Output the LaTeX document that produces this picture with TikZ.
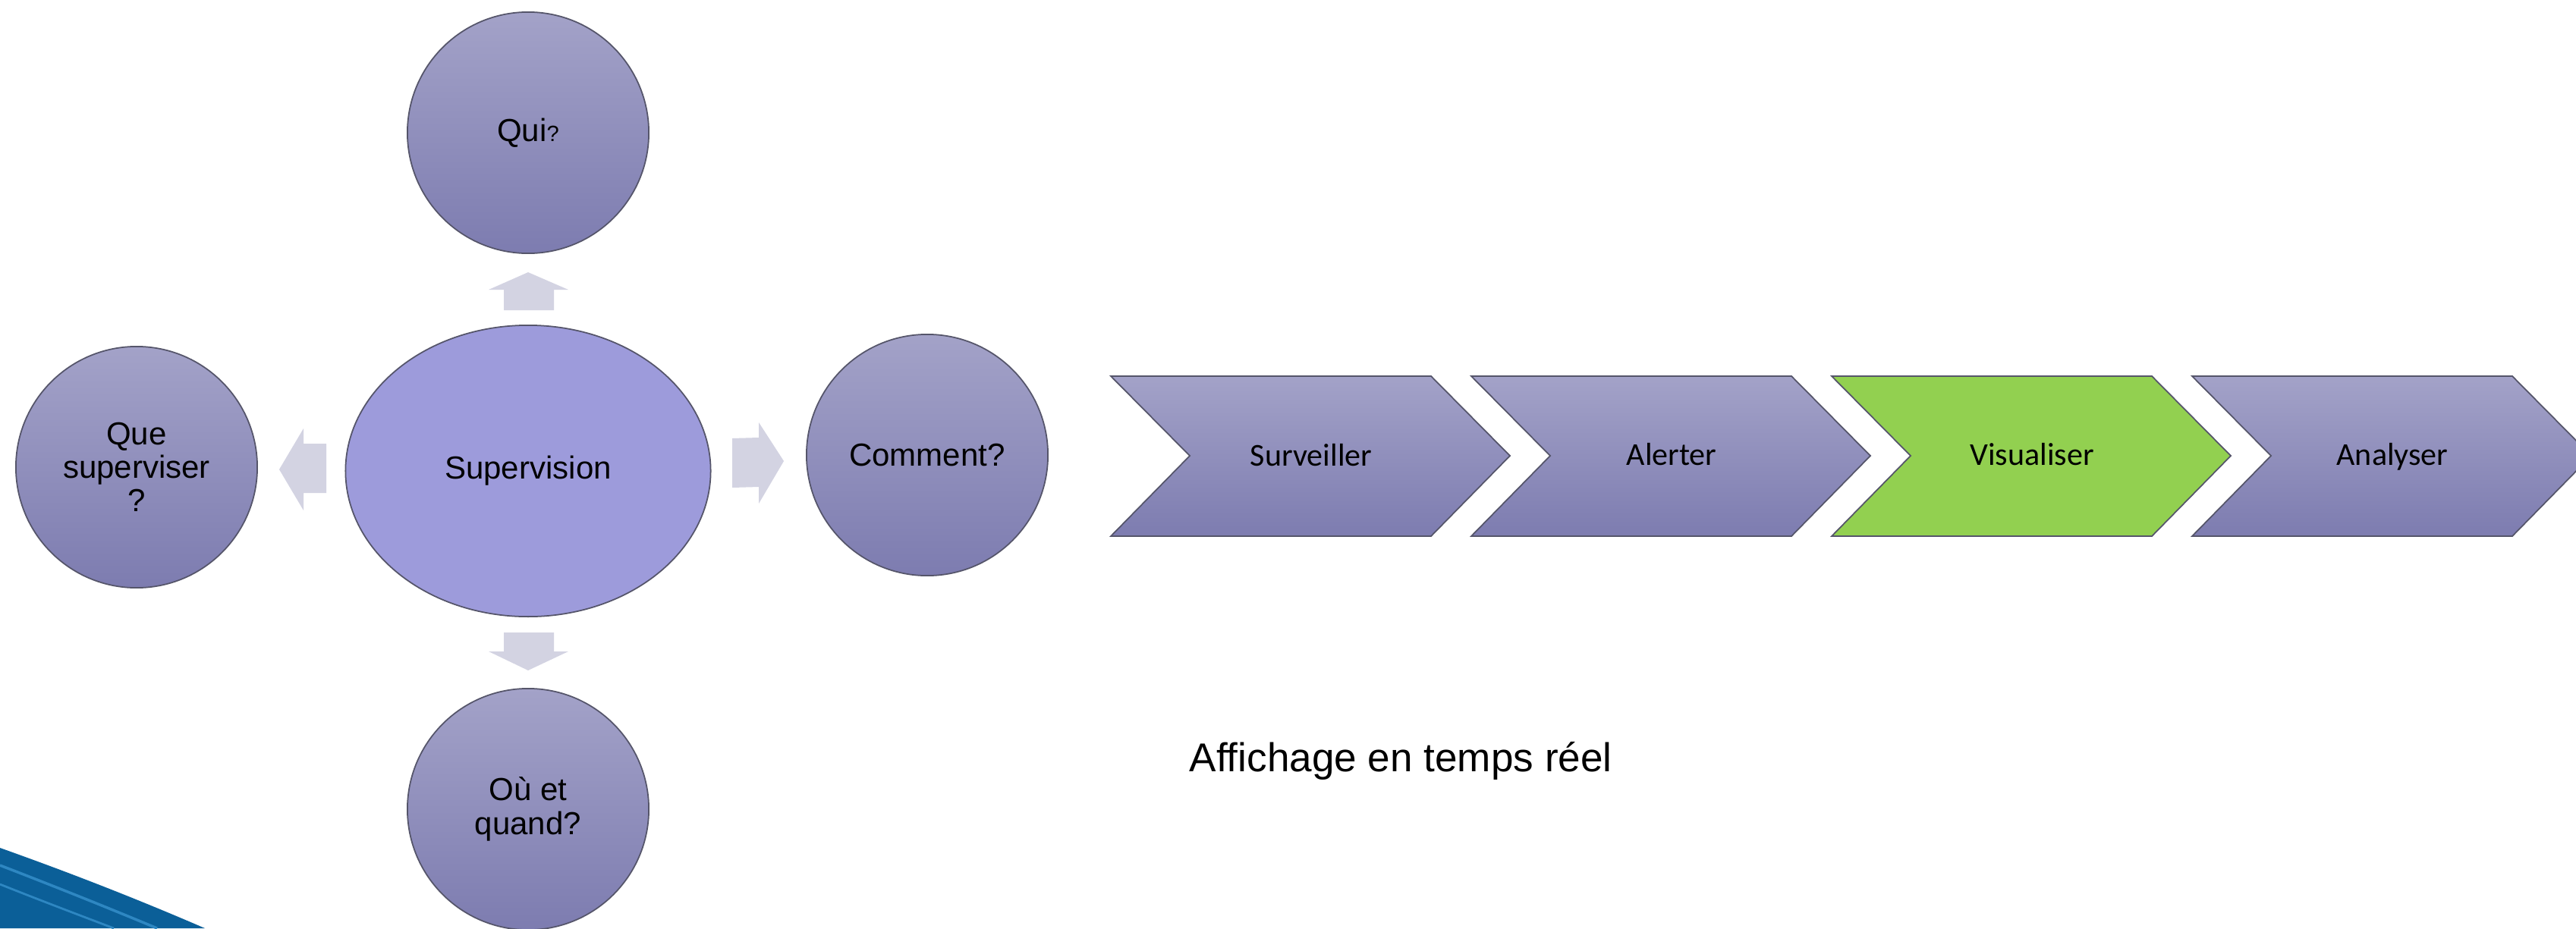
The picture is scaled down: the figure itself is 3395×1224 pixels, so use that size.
\documentclass[tikz,border=0pt]{standalone}
\usepackage{fontspec}
\setmainfont{Liberation Sans}
\newfontfamily\chevfont{Carlito}
\usetikzlibrary{shapes.geometric}
\definecolor{circtop}{HTML}{A3A2C8}
\definecolor{circbot}{HTML}{7D7CB0}
\definecolor{centfill}{HTML}{9D9BDB}
\definecolor{arrfill}{HTML}{D3D3E2}
\definecolor{greenfill}{HTML}{92D050}
\definecolor{outl}{HTML}{55556A}
\definecolor{swoosh}{HTML}{0B5F98}
\definecolor{swooshlight}{HTML}{2E87C2}
\tikzset{
  circ/.style={circle, minimum size=3.18cm, inner sep=0pt, draw=outl, line width=0.5pt,
    top color=circtop, bottom color=circbot, align=center,
    font=\fontsize{11.95}{12.6}\selectfont},
  centre/.style={ellipse, minimum width=4.81cm, minimum height=3.84cm, inner sep=0pt,
    draw=outl, line width=0.5pt, fill=centfill, font=\fontsize{11.95}{14}\selectfont},
  blockarrow/.style={fill=arrfill, draw=none},
  chevblue/.style={top color=circtop, bottom color=circbot, draw=outl, line width=0.5pt},
  chevgreen/.style={fill=greenfill, draw=outl, line width=0.5pt},
  chevtext/.style={font=\chevfont\fontsize{11.95}{14}\selectfont, inner sep=0pt, anchor=base}
}
\begin{document}
\begin{tikzpicture}[x=0.01cm,y=-0.01cm]
\useasboundingbox (0,0) rectangle (3395,1224);
\clip (0,0) rectangle (3395,1224);
\fill[white] (0,0) rectangle (3395,1224);

% blue swoosh
\fill[swoosh] (0,1118) .. controls (90,1150) and (180,1185) .. (270,1224) -- (0,1224) -- cycle;
\draw[swooshlight, line width=1pt] (0,1141) .. controls (70,1168) and (140,1196) .. (207,1224);
\draw[swooshlight, line width=0.8pt] (0,1166) .. controls (50,1186) and (100,1205) .. (150,1224);

% nodes
\node[centre] (sup) at (696,621) {Supervision};
\node[circ] (qui) at (696,175) {Qui{\fontsize{8.3}{10}\selectfont ?}};
\node[circ] (que) at (180,616) {Que\\superviser\\?};
\node[circ] (ou) at (696,1067) {Où et\\quand?};
\node[circ] (com) at (1222,600) {Comment?};

% block arrows
\fill[blockarrow] (664,409) -- (664,382) -- (644,382) -- (696,359) -- (749,382) -- (730,382) -- (730,409) -- cycle;
\fill[blockarrow] (664,834) -- (664,859) -- (644,859) -- (696,884) -- (749,859) -- (730,859) -- (730,834) -- cycle;
\fill[blockarrow] (430,585) -- (400,585) -- (400,565) -- (368,619) -- (400,673) -- (400,650) -- (430,650) -- cycle;
\fill[blockarrow] (965,578) -- (1000,577) -- (1000,557) -- (1033,608) -- (1000,664) -- (1000,642) -- (965,643) -- cycle;

% chevrons
\foreach \i/\st in {0/chevblue,1/chevblue,2/chevgreen,3/chevblue}{
  \pgfmathsetmacro{\dx}{475*\i}
  \draw[\st] (1464+\dx,496) -- (1886+\dx,496) -- (1990+\dx,601) -- (1886+\dx,707) -- (1464+\dx,707) -- (1568+\dx,601) -- cycle;
}
\node[chevtext] (c1) at (1728,614) {Surveiller};
\node[chevtext] (c2) at (2203,613) {Alerter};
\node[chevtext] (c3) at (2678,613) {Visualiser};
\node[chevtext] (c4) at (3153,613) {Analyser};

% caption
\node[anchor=base west, inner sep=0pt, font=\fontsize{15.1}{18}\selectfont] (aff) at (1567,1017) {Affichage en temps réel};
\end{tikzpicture}
\end{document}
